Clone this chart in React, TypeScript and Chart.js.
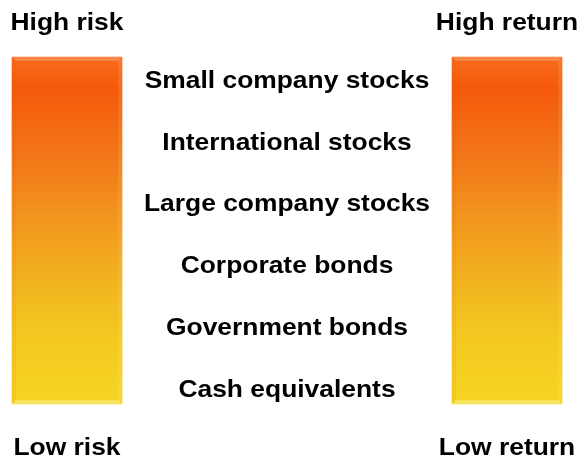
import React, { useEffect, useRef } from "react";
import { Chart, registerables } from "chart.js";

Chart.register(...registerables);

const columns = ["Risk", "Assets", "Return"];
const barValues = [1, null, 1];
const topLabels = ["High risk", "", "High return"];
const bottomLabels = ["Low risk", "", "Low return"];
const assetClasses = [
  "Small company stocks",
  "International stocks",
  "Large company stocks",
  "Corporate bonds",
  "Government bonds",
  "Cash equivalents",
];

const FONT = '"Liberation Sans", Arial, sans-serif';

function stretchedText(ctx: CanvasRenderingContext2D, text: string, x: number, y: number) {
  ctx.save();
  ctx.translate(x, y);
  ctx.scale(1.1, 1);
  ctx.fillText(text, 0, 0);
  ctx.restore();
}

const textPlugin = {
  id: "riskText",
  afterDraw(chart: any) {
    const { ctx, chartArea, scales } = chart;
    if (!chartArea) return;
    const xs = scales.x;
    ctx.save();
    ctx.fillStyle = "#000";
    ctx.font = `bold 24px ${FONT}`;
    ctx.textAlign = "center";
    ctx.textBaseline = "alphabetic";
    columns.forEach((_, i) => {
      const cx = xs.getPixelForValue(i);
      if (topLabels[i]) stretchedText(ctx, topLabels[i], cx, chartArea.top - 27);
      if (bottomLabels[i]) stretchedText(ctx, bottomLabels[i], cx, chartArea.bottom + 51);
    });
    const midX = xs.getPixelForValue(1);
    const first = chartArea.top + 31;
    const last = chartArea.bottom - 7.3;
    const step = (last - first) / (assetClasses.length - 1);
    assetClasses.forEach((t, i) => {
      stretchedText(ctx, t, midX, first + i * step);
    });
    ctx.restore();
  },
};

const bevelPlugin = {
  id: "bevel",
  afterDatasetsDraw(chart: any) {
    const { ctx } = chart;
    const meta = chart.getDatasetMeta(0);
    ctx.save();
    meta.data.forEach((bar: any, i: number) => {
      if (barValues[i] == null) return;
      const { x, y, base, width } = bar.getProps(["x", "y", "base", "width"], true);
      const l = x - width / 2;
      const r = x + width / 2;
      const b = 4;
      ctx.fillStyle = "rgba(255,190,150,0.35)";
      ctx.beginPath();
      ctx.moveTo(l, y);
      ctx.lineTo(r, y);
      ctx.lineTo(r - b, y + b);
      ctx.lineTo(l + b, y + b);
      ctx.closePath();
      ctx.fill();
      ctx.fillStyle = "rgba(255,245,180,0.4)";
      ctx.beginPath();
      ctx.moveTo(l, base);
      ctx.lineTo(r, base);
      ctx.lineTo(r - b, base - b);
      ctx.lineTo(l + b, base - b);
      ctx.closePath();
      ctx.fill();
      ctx.fillStyle = "rgba(200,80,0,0.08)";
      ctx.beginPath();
      ctx.moveTo(l, y);
      ctx.lineTo(l + b, y + b);
      ctx.lineTo(l + b, base - b);
      ctx.lineTo(l, base);
      ctx.closePath();
      ctx.fill();
      ctx.fillStyle = "rgba(255,230,150,0.12)";
      ctx.beginPath();
      ctx.moveTo(r, y);
      ctx.lineTo(r - b, y + b);
      ctx.lineTo(r - b, base - b);
      ctx.lineTo(r, base);
      ctx.closePath();
      ctx.fill();
    });
    ctx.restore();
  },
};

export default function App() {
  const canvasRef = useRef<HTMLCanvasElement | null>(null);

  useEffect(() => {
    if (!canvasRef.current) return;
    const chart = new Chart(canvasRef.current, {
      type: "bar",
      data: {
        labels: columns,
        datasets: [
          {
            data: barValues as any,
            barThickness: 110,
            clip: false as any,
            borderWidth: 0,
            backgroundColor: (c: any) => {
              const { chart } = c;
              const area = chart.chartArea;
              if (!area) return "#F5A020";
              const g = chart.ctx.createLinearGradient(0, area.top, 0, area.bottom);
              g.addColorStop(0, "#F86A1E");
              g.addColorStop(0.09, "#F55A0A");
              g.addColorStop(0.27, "#F27318");
              g.addColorStop(0.46, "#F2951E");
              g.addColorStop(0.65, "#F2B420");
              g.addColorStop(0.8, "#F3C820");
              g.addColorStop(1, "#F6D622");
              return g;
            },
          },
        ],
      },
      options: {
        animation: false,
        responsive: true,
        maintainAspectRatio: false,
        layout: { padding: { left: 67, right: 73, top: 57, bottom: 59 } },
        plugins: { legend: { display: false }, tooltip: { enabled: false } },
        scales: {
          x: { type: "category", offset: false, display: false, grid: { display: false } },
          y: { min: 0, max: 1, display: false, grid: { display: false } },
        },
      },
      plugins: [bevelPlugin, textPlugin],
    });
    return () => chart.destroy();
  }, []);

  return (
    <div style={{ position: "fixed", left: 0, top: 0, width: 580, height: 463, background: "#fff" }}>
      <canvas ref={canvasRef} />
    </div>
  );
}
